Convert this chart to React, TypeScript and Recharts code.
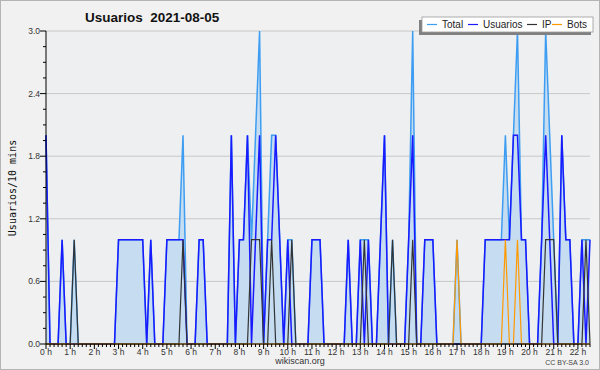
import { ComposedChart, Area, Line, XAxis, YAxis, CartesianGrid } from "recharts";

// one value per 10-minute slot, 00:00 .. 22:30
const USUARIOS = [
  2, 0, 0, 0, 1, 0, 0, 0, 0, 0, 0, 0,
  0, 0, 0, 0, 0, 0, 1, 1, 1, 1, 1, 1,
  1, 0, 1, 0, 0, 0, 1, 1, 1, 1, 1, 0,
  0, 0, 1, 1, 0, 0, 0, 0, 0, 0, 2, 0,
  1, 1, 2, 0, 1, 2, 0, 1, 1, 2, 1, 0,
  1, 0, 0, 0, 0, 0, 1, 1, 1, 0, 0, 0,
  0, 0, 0, 1, 0, 0, 1, 0, 1, 0, 0, 1,
  2, 0, 0, 0, 0, 0, 1, 2, 0, 0, 1, 1,
  1, 0, 0, 0, 0, 0, 0, 0, 0, 0, 0, 0,
  0, 1, 1, 1, 1, 1, 1, 1, 2, 2, 1, 1,
  0, 0, 0, 1, 2, 1, 0, 0, 2, 1, 1, 0,
  0, 1, 0, 1,
];

const IP = [
  0, 0, 0, 0, 0, 0, 0, 1, 0, 0, 0, 0,
  0, 0, 0, 0, 0, 0, 0, 0, 0, 0, 0, 0,
  0, 0, 0, 0, 0, 0, 0, 0, 0, 0, 1, 0,
  0, 0, 0, 0, 0, 0, 0, 0, 0, 0, 0, 0,
  0, 0, 0, 1, 1, 1, 0, 0, 1, 0, 0, 0,
  0, 1, 0, 0, 0, 0, 0, 0, 0, 0, 0, 0,
  0, 0, 0, 0, 0, 0, 0, 1, 0, 0, 0, 0,
  0, 0, 1, 0, 0, 0, 0, 1, 0, 0, 0, 0,
  0, 0, 0, 0, 0, 0, 0, 0, 0, 0, 0, 0,
  0, 0, 0, 0, 0, 0, 0, 0, 0, 0, 0, 0,
  0, 0, 0, 0, 1, 1, 1, 0, 0, 0, 0, 0,
  0, 0, 1, 0,
];

const BOTS = [
  0, 0, 0, 0, 0, 0, 0, 0, 0, 0, 0, 0,
  0, 0, 0, 0, 0, 0, 0, 0, 0, 0, 0, 0,
  0, 0, 0, 0, 0, 0, 0, 0, 0, 0, 0, 0,
  0, 0, 0, 0, 0, 0, 0, 0, 0, 0, 0, 0,
  0, 0, 0, 0, 0, 0, 0, 0, 0, 0, 0, 0,
  0, 0, 0, 0, 0, 0, 0, 0, 0, 0, 0, 0,
  0, 0, 0, 0, 0, 0, 0, 0, 0, 0, 0, 0,
  0, 0, 0, 0, 0, 0, 0, 0, 0, 0, 0, 0,
  0, 0, 0, 0, 0, 0, 1, 0, 0, 0, 0, 0,
  0, 0, 0, 0, 0, 0, 1, 0, 0, 1, 0, 0,
  0, 0, 0, 0, 0, 0, 0, 0, 0, 0, 0, 0,
  0, 0, 0, 0,
];

const TOTAL = [
  2, 0, 0, 0, 1, 0, 0, 1, 0, 0, 0, 0,
  0, 0, 0, 0, 0, 0, 1, 1, 1, 1, 1, 1,
  1, 0, 1, 0, 0, 0, 1, 1, 1, 1, 2, 0,
  0, 0, 1, 1, 0, 0, 0, 0, 0, 0, 2, 0,
  1, 1, 2, 1, 2, 3, 0, 1, 2, 2, 1, 0,
  1, 1, 0, 0, 0, 0, 1, 1, 1, 0, 0, 0,
  0, 0, 0, 1, 0, 0, 1, 1, 1, 0, 0, 1,
  2, 0, 1, 0, 0, 0, 1, 3, 0, 0, 1, 1,
  1, 0, 0, 0, 0, 0, 1, 0, 0, 0, 0, 0,
  0, 1, 1, 1, 1, 1, 2, 1, 2, 3, 1, 1,
  0, 0, 0, 1, 3, 2, 1, 0, 2, 1, 1, 0,
  0, 1, 1, 1,
];

const HOURS = [0, 1, 2, 3, 4, 5, 6, 7, 8, 9, 10, 11, 12, 13, 14, 15, 16, 17, 18, 19, 20, 21, 22];
const Y_MAJOR = [0, 0.6, 1.2, 1.8, 2.4, 3.0];

const SLOTS_PER_HOUR = 6;
const data = TOTAL.map((t, i) => ({
  slot: i,
  total: t,
  usuarios: USUARIOS[i],
  ip: IP[i],
  bots: BOTS[i],
}));
const xTicks = data.map((d) => d.slot);
// minor ticks: 4 per major step
const yTicks: number[] = [];
Y_MAJOR.forEach((v, k) => {
  yTicks.push(v);
  if (k < Y_MAJOR.length - 1) {
    const step = (Y_MAJOR[k + 1] - v) / 4;
    for (let j = 1; j < 4; j++) yTicks.push(+(v + step * j).toFixed(3));
  }
});

const FONT = "'Liberation Sans', Arial, sans-serif";

const XTick = (props: any) => {
  const { x, y, payload } = props;
  const v = payload.value;
  const hour = v / SLOTS_PER_HOUR;
  const isHour = HOURS.includes(hour);
  return (
    <g>
      <line x1={x} x2={x} y1={y} y2={y + (isHour ? 5 : 3)} stroke="#000" />
      {isHour && (
        <text x={x} y={y + 11} textAnchor="middle" fontSize={8.5} fontFamily={FONT} fill="#333">
          {`${hour} h`}
        </text>
      )}
    </g>
  );
};

const YTick = (props: any) => {
  const { x, y, payload } = props;
  const v = payload.value;
  const isMajor = Y_MAJOR.some((m) => Math.abs(m - v) < 1e-6);
  return (
    <g>
      <line x1={x - (isMajor ? 6 : 3)} x2={x} y1={y} y2={y} stroke="#000" />
      {isMajor && (
        <text x={x - 6} y={y + 3} textAnchor="end" fontSize={8.5} fontFamily={FONT} fill="#333">
          {v.toFixed(1)}
        </text>
      )}
    </g>
  );
};

const LEGEND = [
  { name: "Total", color: "#3d9df2" },
  { name: "Usuarios", color: "#1a1aff" },
  { name: "IP", color: "#333333" },
  { name: "Bots", color: "#ff9900" },
];
const LEGEND_X = [427, 468, 527, 552];

export default function App() {
  return (
    <div
      style={{
        position: "absolute",
        left: 0,
        top: 0,
        width: 600,
        height: 370,
        boxSizing: "border-box",
        border: "1px solid #b4b4b4",
        background: "#f1f1f1",
      }}
    >
      <div style={{ position: "absolute", left: -1, top: -1 }}>
        <ComposedChart
          width={600}
          height={370}
          data={data}
          margin={{ top: 31, right: 10, bottom: 6, left: 6 }}
        >
          <CartesianGrid
            vertical={false}
            horizontalValues={Y_MAJOR}
            stroke="#c8c8c8"
            fill="#edeff1"
            fillOpacity={1}
          />
          <XAxis
            dataKey="slot"
            type="number"
            domain={[0, 135]}
            ticks={xTicks}
            interval={0}
            tick={<XTick />}
            tickLine={false}
            tickSize={0}
            tickMargin={0}
            height={20}
            axisLine={{ stroke: "#000" }}
          />
          <YAxis
            type="number"
            domain={[0, 3]}
            ticks={yTicks}
            interval={0}
            tick={<YTick />}
            tickLine={false}
            tickSize={0}
            tickMargin={0}
            width={40}
            axisLine={{ stroke: "#000" }}
          />
          <Area
            type="linear"
            dataKey="total"
            stroke="#3d9df2"
            strokeWidth={1.5}
            fill="#c6ddf1"
            fillOpacity={1}
            dot={false}
            activeDot={false}
            isAnimationActive={false}
          />
          <Line type="linear" dataKey="usuarios" stroke="#1a1aff" strokeWidth={1.5} dot={false} activeDot={false} isAnimationActive={false} />
          <Line type="linear" dataKey="ip" stroke="#333333" strokeWidth={1.2} dot={false} activeDot={false} isAnimationActive={false} />
          <Line type="linear" dataKey="bots" stroke="#ff9900" strokeWidth={1.2} dot={false} activeDot={false} isAnimationActive={false} />
        </ComposedChart>
      </div>
      <svg
        width={600}
        height={370}
        style={{ position: "absolute", left: -1, top: -1, pointerEvents: "none" }}
      >
        <text x={85} y={22} fontSize={13.5} fontWeight="bold" fontFamily={FONT} fill="#111">
          Usuarios{"\u00a0\u00a0"}2021-08-05
        </text>
        <text
          x={16}
          y={188}
          transform="rotate(-90 16 188)"
          textAnchor="middle"
          fontSize={10}
          fontFamily="'DejaVu Sans Mono', monospace"
          fill="#111"
        >
          Usuarios/10 mins
        </text>
        <text x={300} y={364} textAnchor="middle" fontSize={9} fontFamily={FONT} fill="#333">
          wikiscan.org
        </text>
        <text x={589} y={365} textAnchor="end" fontSize={7} fontFamily={FONT} fill="#444">
          CC BY-SA 3.0
        </text>
        <rect x={419} y={20} width={172} height={15} fill="#808080" />
        <rect x={422} y={17} width={171} height={15} fill="#fff" stroke="#999" strokeWidth={0.8} />
        {LEGEND.map((item, k) => (
          <g key={item.name}>
            <line x1={LEGEND_X[k]} x2={LEGEND_X[k] + 10} y1={24.5} y2={24.5} stroke={item.color} strokeWidth={1.2} />
            <text x={LEGEND_X[k] + 15} y={28} fontSize={10} fontFamily={FONT} fill="#222">
              {item.name}
            </text>
          </g>
        ))}
      </svg>
    </div>
  );
}
